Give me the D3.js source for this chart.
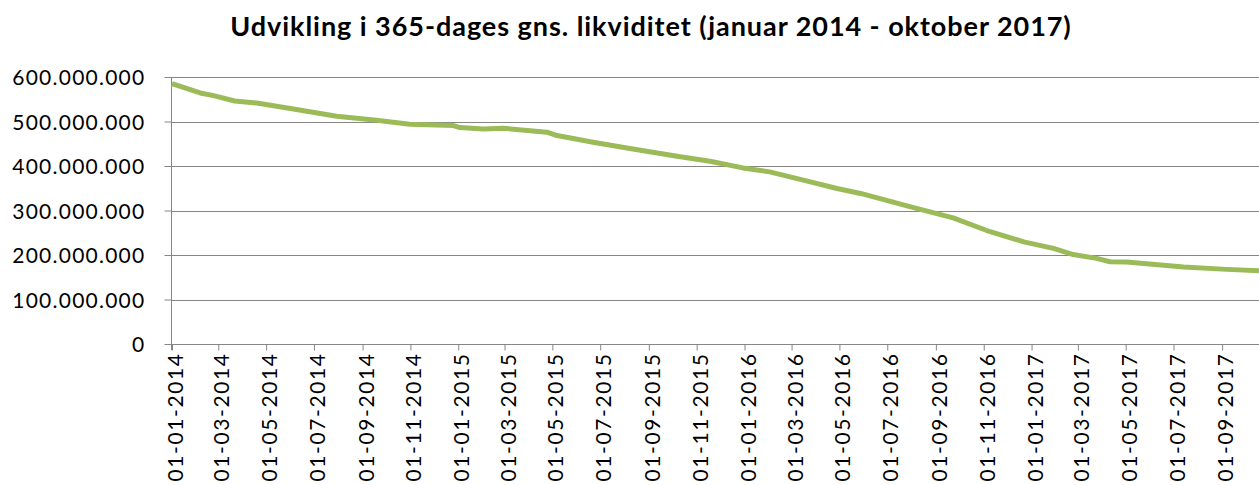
<!DOCTYPE html>
<html>

<head>
    <title>Likviditet</title>
    <style>
        html,
        body {
            margin: 0;
            padding: 0;
            background-color: #ffffff;
            overflow: hidden;
        }

        text {
            font-family: Lato, "Open Sans", sans-serif;
            fill: #000000;
        }
    </style>
</head>

<body>
    <div id="container"></div>

    <script src="https://d3js.org/d3.v7.min.js"></script>

    <script>
        // values (kr.)
        var dates = [
            "2014-01-01", "2014-02-06", "2014-02-23", "2014-03-22", "2014-04-19", "2014-06-01",
            "2014-07-30", "2014-09-19", "2014-10-31", "2014-12-26", "2015-01-03", "2015-02-02",
            "2015-02-27", "2015-04-24", "2015-05-07", "2015-06-22", "2015-08-04", "2015-10-07",
            "2015-11-18", "2015-12-30", "2016-02-02", "2016-03-16", "2016-04-28", "2016-05-28",
            "2016-07-31", "2016-09-23", "2016-11-05", "2016-12-22", "2017-01-29", "2017-02-23",
            "2017-03-25", "2017-04-11", "2017-05-02", "2017-07-14", "2017-09-07", "2017-10-18"
        ];
        var liquidity = [
            585.2, 564.1, 558.2, 546.1, 541.6, 529.1,
            511.8, 502.8, 493.8, 490.9, 486.4, 483.3,
            485.0, 475.9, 468.5, 453.4, 440.6, 422.0,
            410.8, 395.7, 386.8, 368.1, 349.5, 338.3,
            308.2, 283.5, 255.0, 229.6, 214.8, 201.0,
            192.4, 184.8, 184.1, 172.8, 167.7, 164.5
        ].map(function (v) { return v * 1e6; });

        var yTicks = [0, 100e6, 200e6, 300e6, 400e6, 500e6, 600e6];
        var xStart = "2014-01-01", xEnd = "2017-10-18";
        var title = "Udvikling i 365-dages gns. likviditet (januar 2014 - oktober 2017)";

        var width = 1259, height = 485;
        var plot = { left: 172, right: 1259, top: 77, bottom: 344 };

        var parse = d3.timeParse("%Y-%m-%d");
        var data = dates.map(function (d, i) { return { date: parse(d), value: liquidity[i] }; });

        var da = d3.formatLocale({ decimal: ",", thousands: ".", grouping: [3], currency: ["", " kr."] });
        var fmtY = da.format(",.0f");
        var fmtX = d3.timeFormat("%d-%m-%Y");

        var x = d3.scaleTime()
            .domain([parse(xStart), parse(xEnd)])
            .range([plot.left, plot.right]);

        var y = d3.scaleLinear()
            .domain([0, 600e6])
            .range([plot.bottom, plot.top]);

        var svg = d3.select("div#container")
            .append("svg")
            .attr("width", width)
            .attr("height", height);

        // title
        svg.append("text")
            .attr("x", 651)
            .attr("y", 36)
            .attr("text-anchor", "middle")
            .style("font-weight", "bold")
            .style("font-size", "27px")
            .style("letter-spacing", "0.95px")
            .text(title);

        // horizontal gridlines
        svg.append("g")
            .selectAll("line")
            .data(yTicks.filter(function (t) { return t > 0; }))
            .enter().append("line")
            .attr("x1", plot.left)
            .attr("x2", plot.right)
            .attr("y1", function (d) { return Math.round(y(d)) + 0.5; })
            .attr("y2", function (d) { return Math.round(y(d)) + 0.5; })
            .style("stroke", "#868686")
            .style("stroke-width", 1);

        // y axis
        var yAxis = svg.append("g")
            .attr("transform", "translate(" + (plot.left - 0.5) + ",0)")
            .call(d3.axisLeft(y).tickValues(yTicks).tickFormat(fmtY).tickSize(7).tickPadding(19));

        yAxis.selectAll("text")
            .style("font-size", "21px")
            .style("letter-spacing", "1.25px")
            .attr("dy", "0.36em");

        // x axis
        var xAxis = svg.append("g")
            .attr("transform", "translate(0," + (plot.bottom + 0.5) + ")")
            .call(d3.axisBottom(x).ticks(d3.timeMonth.every(2)).tickFormat(fmtX).tickSize(6));

        xAxis.selectAll("text")
            .style("font-size", "21px")
            .style("letter-spacing", "1.6px")
            .attr("text-anchor", "end")
            .attr("dy", "0.36em")
            .attr("y", 0)
            .attr("x", 0)
            .attr("transform", "translate(3,8) rotate(-90)");

        svg.selectAll(".domain, .tick line")
            .style("stroke", "#868686")
            .style("stroke-width", 1);

        // extend x axis line a bit left of the y axis, like the original
        xAxis.select(".domain").attr("d", "M" + (plot.left - 7) + ",0H" + plot.right);
        yAxis.select(".domain").attr("d", "M0," + plot.top + "V" + (plot.bottom + 6));

        // the series
        var line = d3.line()
            .x(function (d) { return x(d.date); })
            .y(function (d) { return y(d.value); });

        svg.append("path")
            .datum(data)
            .attr("d", line)
            .style("fill", "none")
            .style("stroke", "#9BBB59")
            .style("stroke-width", 5)
            .style("stroke-linejoin", "round")
            .style("stroke-linecap", "butt");
    </script>
</body>

</html>
